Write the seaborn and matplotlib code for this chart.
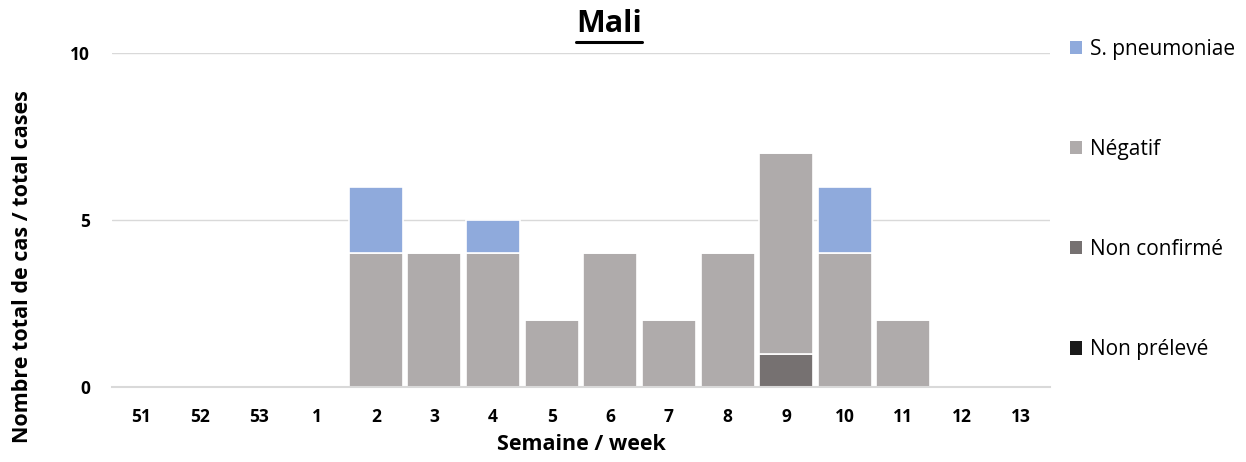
import matplotlib
matplotlib.use("Agg")
import matplotlib.pyplot as plt
import seaborn as sns
import pandas as pd
from matplotlib.patches import Patch
from matplotlib.lines import Line2D

weeks = ["51", "52", "53", "1", "2", "3", "4", "5", "6", "7", "8", "9", "10", "11", "12", "13"]
non_preleve = [0, 0, 0, 0, 0, 0, 0, 0, 0, 0, 0, 0, 0, 0, 0, 0]
non_confirme = [0, 0, 0, 0, 0, 0, 0, 0, 0, 0, 0, 1, 0, 0, 0, 0]
negatif = [0, 0, 0, 0, 4, 4, 4, 2, 4, 2, 4, 6, 4, 2, 0, 0]
s_pneumoniae = [0, 0, 0, 0, 2, 0, 1, 0, 0, 0, 0, 0, 2, 0, 0, 0]

series = [
    ("Non prélevé", non_preleve, "#1a1a1a"),
    ("Non confirmé", non_confirme, "#767171"),
    ("Négatif", negatif, "#AFABAB"),
    ("S. pneumoniae", s_pneumoniae, "#8FAADC"),
]

sns.set_theme(style="white")
plt.rcParams["font.family"] = ["Open Sans", "DejaVu Sans"]
plt.rcParams["text.color"] = "black"
plt.rcParams["axes.labelcolor"] = "black"
plt.rcParams["xtick.color"] = "black"
plt.rcParams["ytick.color"] = "black"

fig = plt.figure(figsize=(12.46, 4.62), dpi=100)
ax = fig.add_axes([112 / 1246, 1 - 387 / 462, (1050 - 112) / 1246, (387 - 53) / 462])

bottom = [0] * len(weeks)
for name, vals, col in series:
    df = pd.DataFrame({"week": weeks, "val": vals})
    sns.barplot(data=df, x="week", y="val", order=weeks, color=col, width=0.92,
                bottom=bottom, edgecolor="white", linewidth=1.2, ax=ax,
                saturation=1, errorbar=None, zorder=3)
    bottom = [b + v for b, v in zip(bottom, vals)]

ax.set_ylim(0, 10)
ax.set_xlim(-0.5, len(weeks) - 0.5)
ax.set_yticks([0, 5, 10])
ax.yaxis.grid(True, color="#D9D9D9", linewidth=1, zorder=0)
ax.set_axisbelow(True)
for s in ["top", "right", "left"]:
    ax.spines[s].set_visible(False)
ax.spines["bottom"].set_color("#D9D9D9")
ax.spines["bottom"].set_linewidth(1.5)
ax.spines["bottom"].set_zorder(5)
ax.tick_params(axis="both", length=0, labelsize=12.5, labelcolor="black")
ax.tick_params(axis="x", pad=15)
ax.tick_params(axis="y", pad=16)
for lab in ax.get_xticklabels() + ax.get_yticklabels():
    lab.set_fontweight("bold")

ax.set_xlabel("Semaine / week", fontsize=15.5, fontweight="bold", labelpad=6, color="black")
ax.set_ylabel("Nombre total de cas / total cases", fontsize=15.5, fontweight="bold",
              color="black")
ax.yaxis.set_label_coords(-0.084, 0.36)

title = fig.text(609 / 1246, 1 - 24 / 462, "Mali", ha="center", va="center",
                 fontsize=22, fontweight="bold", color="black")
fig.canvas.draw()
bb = title.get_window_extent().transformed(fig.transFigure.inverted())
fig.add_artist(Line2D([bb.x0, bb.x1], [1 - 42 / 462, 1 - 42 / 462], color="black",
                      linewidth=2.2, transform=fig.transFigure))

handles = [Patch(facecolor=c, edgecolor="none", label=n) for n, _, c in reversed(series)]
fig.legend(handles=handles, loc="upper left", bbox_to_anchor=(1051 / 1246, 1 - 20 / 462),
           frameon=False, fontsize=15, labelspacing=3.8, handlelength=0.6, handleheight=0.6,
           handletextpad=0.35, labelcolor="black")

fig.savefig("out.png", dpi=100)
